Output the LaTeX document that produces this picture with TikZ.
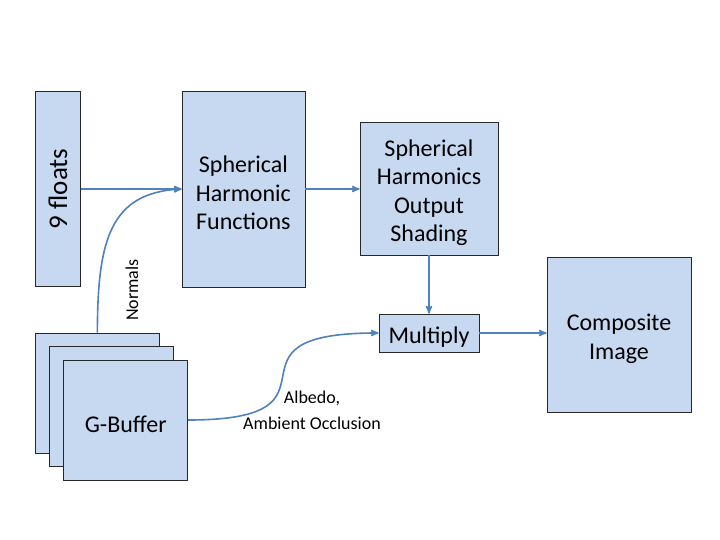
\documentclass[tikz,border=0pt]{standalone}
\usepackage{fontspec}
\setmainfont{Carlito}
\newcommand*{\toppad}{\rule{0pt}{25pt}}
\definecolor{F}{RGB}{198,217,241}
\definecolor{L}{RGB}{79,129,189}
\definecolor{E}{RGB}{40,40,40}
\usetikzlibrary{arrows}
\tikzstyle{box}=[draw=E, fill=F, line width=0.8pt, inner sep=0pt, align=center, font=\fontsize{24}{28.5}\selectfont]
\tikzstyle{flow}=[L, line width=1.6pt, ->, >=stealth']
\tikzstyle{note}=[inner sep=0pt, align=center, font=\fontsize{18}{26}\selectfont]

\begin{document}
\begin{tikzpicture}[x=1pt, y=-1pt]
    \useasboundingbox (0,0) rectangle (720,540);
        \node [box, minimum width=44.6pt, minimum height=195.7pt] (floats) at (58,189) {\rotatebox{90}{\fontsize{27}{30}\selectfont 9 floats}};
        \node [box, minimum width=123pt, minimum height=196pt] (shfunc) at (243.4,189) {\toppad Spherical\\Harmonic\\Functions};
        \node [box, minimum width=138pt, minimum height=133pt] (shout) at (429,188.5) {\toppad Spherical\\Harmonics\\Output\\Shading};
        \node [box, minimum width=100pt, minimum height=38pt] (multiply) at (429,333) {\toppad Multiply};
        \node [box, minimum width=144pt, minimum height=155pt] (composite) at (619,334.5) {\toppad Composite\\Image};
        \foreach \n/\t [count=\i from 0] in {gback/,gmid/,gfront/G-Buffer}
            \node [box, minimum width=124pt, minimum height=120pt] (\n) at (97.4 + 14.15*\i,393 + 13.5*\i) {\toppad\t};
        \node [note, rotate=90] (normals) at (132,290) {Normals};
        \node [note] (albedo) at (312,410) {Albedo,\\Ambient Occlusion};
        \draw [flow] (floats.east) -- (shfunc.west);
        \draw [flow] (gback.north) .. controls +(0,-93) and +(-71,4) .. (shfunc.west);
        \draw [flow] (shfunc.east) -- (shfunc.east -| shout.west);
        \draw [flow] (shout.south) -- (multiply.north);
        \draw [flow] (gfront.east) .. controls +(172,0) and +(-173,0) .. (multiply.west);
        \draw [flow] (multiply.east) -- (multiply.east -| composite.west);
    \end{tikzpicture}
\end{document}
